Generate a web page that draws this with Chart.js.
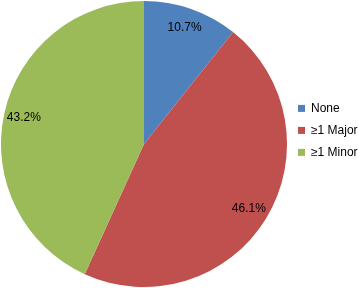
<!DOCTYPE html>
<html>
<head>
<meta charset="utf-8">
<script src="https://cdn.jsdelivr.net/npm/chart.js@4"></script>
<style>
  html,body{margin:0;padding:0;background:#fff;}
  #wrap{width:358px;height:288px;position:relative;}
</style>
</head>
<body>
<div id="wrap"><canvas id="c" width="358" height="288"></canvas></div>
<script>
(() => {
  "use strict";

  const labels = ["None", "\u22651 Major", "\u22651 Minor"];
  const shares = [10.7, 46.1, 43.2];
  const colors = ["#4F81BD", "#C0504D", "#9BBB59"];

  const FONT = "'Liberation Sans', Arial, sans-serif";

  // percent labels drawn inside each slice, near the outer edge
  const sliceLabels = {
    id: "sliceLabels",
    afterDatasetsDraw(chart){
      const ctx = chart.ctx;
      const meta = chart.getDatasetMeta(0);
      ctx.save();
      ctx.font = "12px " + FONT;
      ctx.fillStyle = "#000";
      ctx.textAlign = "center";
      ctx.textBaseline = "middle";
      meta.data.forEach((arc, i) => {
        const p = arc.getProps(["x","y","startAngle","endAngle","outerRadius"], true);
        const mid = (p.startAngle + p.endAngle) / 2;
        const r = p.outerRadius * 0.86;
        ctx.fillText(shares[i].toFixed(1) + "%", p.x + Math.cos(mid) * r, p.y + Math.sin(mid) * r);
      });
      ctx.restore();
    }
  };

  new Chart(document.getElementById("c"), {
    type: "pie",
    data: {
      labels,
      datasets: [{
        data: shares,
        backgroundColor: colors,
        borderWidth: 0
      }]
    },
    options: {
      responsive: false,
      animation: false,
      layout: { padding: { top: 1, bottom: 1 } },
      plugins: {
        tooltip: { enabled: false },
        legend: {
          position: "right",
          align: "start",
          maxWidth: 70,
          title: { display: true, text: " ", padding: { top: 77, bottom: 0 }, font: { family: FONT, size: 12 } },
          labels: {
            boxWidth: 7,
            boxHeight: 7,
            padding: 10,
            color: "#000",
            font: { family: FONT, size: 12 }
          }
        }
      }
    },
    plugins: [sliceLabels]
  });
})();
</script>
</body>
</html>
